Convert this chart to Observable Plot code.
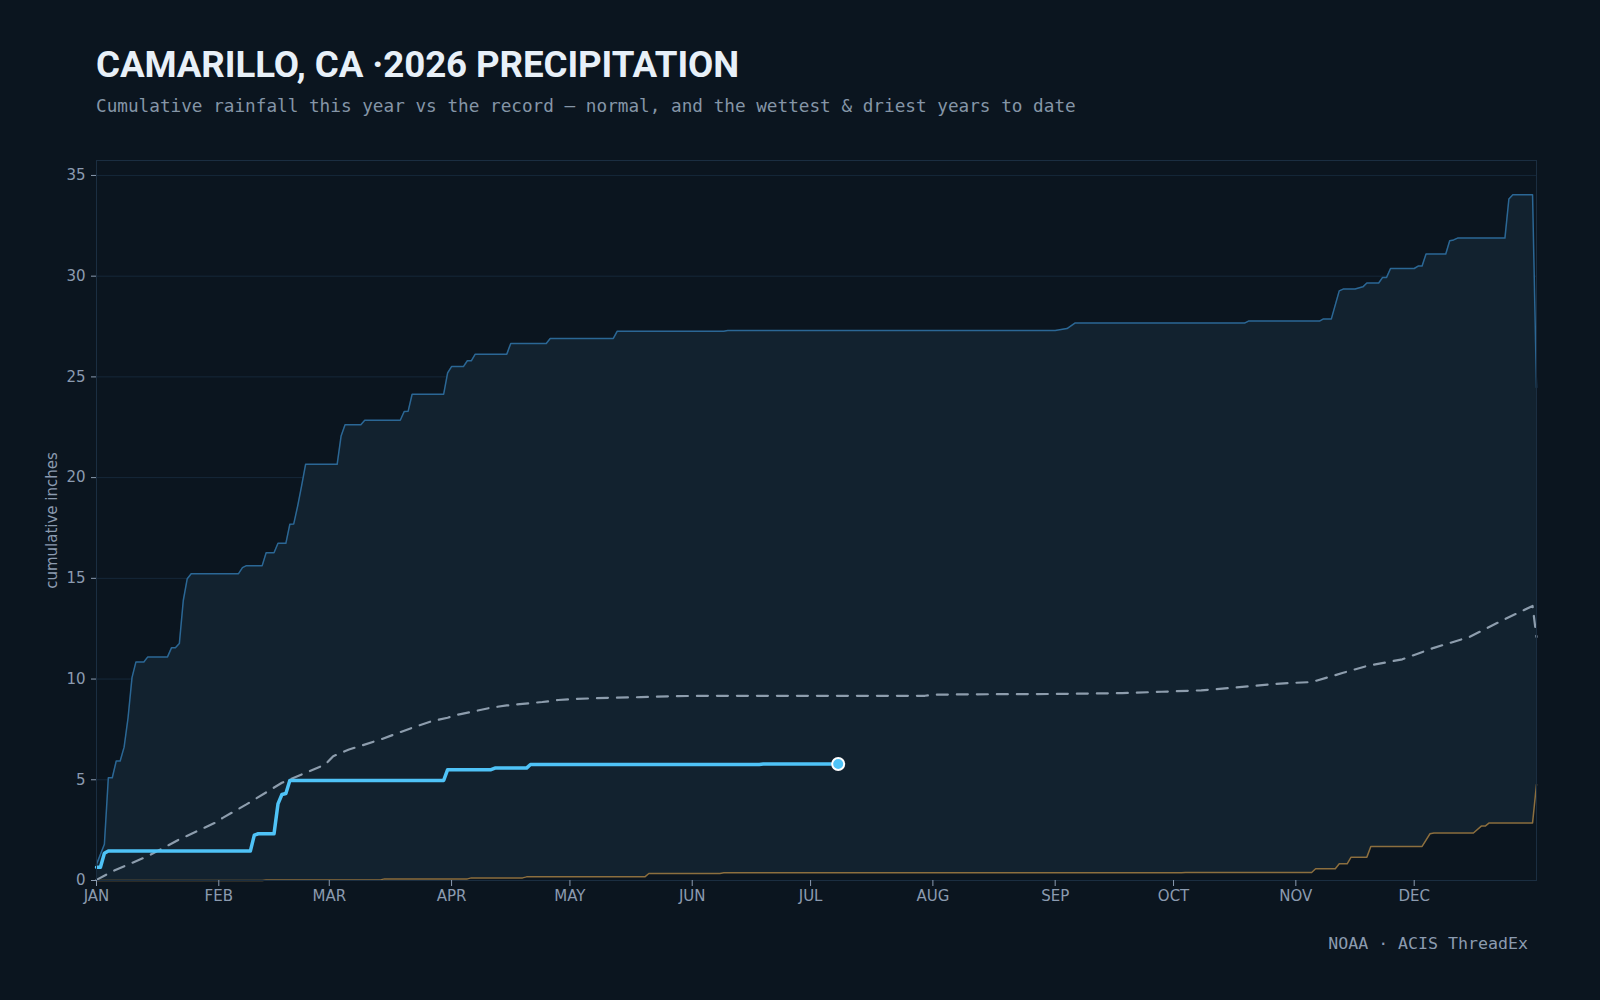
<!DOCTYPE html>
<html>
<head>
<meta charset="utf-8">
<script src="https://cdn.jsdelivr.net/npm/d3@7"></script>
<script src="https://cdn.jsdelivr.net/npm/@observablehq/plot@0.6"></script>
<style>
  html, body { margin: 0; padding: 0; background: #0b151f; }
  body { width: 1600px; height: 1000px; position: relative; overflow: hidden; }
  #title { position: absolute; left: 96px; top: 43px; margin: 0; line-height: 1;
           font: 700 36.7px Roboto, "DejaVu Sans", sans-serif; color: #e8f0f8; white-space: nowrap; letter-spacing: -0.1px; }
  #subtitle { position: absolute; left: 96px; top: 96px; margin: 0; line-height: 1;
              font: 400 17.7px "DejaVu Sans Mono", monospace; color: #8595a7; white-space: nowrap; }
  #chart { position: absolute; left: 0; top: 140px; }
  #caption { position: absolute; right: 72px; top: 934px; margin: 0; line-height: 1;
             font: 400 16.6px "DejaVu Sans Mono", monospace; color: #8b9bb0; white-space: nowrap; }
</style>
</head>
<body>
<h1 id="title">CAMARILLO, CA ·2026 PRECIPITATION</h1>
<p id="subtitle">Cumulative rainfall this year vs the record — normal, and the wettest &amp; driest years to date</p>
<div id="chart"></div>
<p id="caption">NOAA · ACIS ThreadEx</p>
<script>
// Cumulative inches by day of year (0 = Jan 1), [day, inches]
const wettest = [
  [0, 0.8], [2, 1.8], [3, 5.1], [4, 5.1], [5, 5.93], [6, 5.93], [7, 6.62], [8, 8.08],
  [9, 10.07], [10, 10.85], [12, 10.85], [13, 11.1], [18, 11.1], [19, 11.55], [20, 11.55],
  [21, 11.76], [22, 13.9], [23, 14.98], [24, 15.23], [36, 15.23], [37, 15.53], [38, 15.63],
  [42, 15.63], [43, 16.27], [45, 16.27], [46, 16.74], [48, 16.74], [49, 17.68], [50, 17.7],
  [51, 18.6], [52, 19.6], [53, 20.66], [61, 20.66], [62, 22.07], [63, 22.62], [67, 22.62],
  [68, 22.85], [77, 22.85], [78, 23.28], [79, 23.3], [80, 24.14], [88, 24.14], [89, 25.2],
  [90, 25.51], [93, 25.51], [94, 25.8], [95, 25.8], [96, 26.13], [104, 26.13], [105, 26.66],
  [114, 26.66], [115, 26.91], [131, 26.91], [132, 27.27], [159, 27.27], [160, 27.3],
  [243, 27.3], [246, 27.4], [248, 27.67], [291, 27.67], [292, 27.77], [310, 27.77],
  [311, 27.88], [313, 27.88], [315, 29.27], [316, 29.36], [319, 29.36], [321, 29.47],
  [322, 29.66], [325, 29.66], [326, 29.94], [327, 29.94], [328, 30.38], [334, 30.38],
  [335, 30.5], [336, 30.5], [337, 31.1], [342, 31.1], [343, 31.76], [344, 31.8],
  [345, 31.89], [357, 31.89], [358, 33.83], [359, 34.04], [364, 34.04], [365, 24.47]
];

const driest = [
  [0, 0], [42, 0], [43, 0.03], [72, 0.03], [73, 0.08], [94, 0.08], [95, 0.13], [108, 0.13],
  [109, 0.18], [139, 0.18], [140, 0.35], [158, 0.35], [159, 0.38], [275, 0.38], [276, 0.4],
  [308, 0.4], [309, 0.58], [314, 0.58], [315, 0.83], [317, 0.83], [318, 1.16], [322, 1.16],
  [323, 1.69], [336, 1.69], [338, 2.32], [339, 2.36], [349, 2.36], [351, 2.7], [352, 2.7],
  [353, 2.86], [364, 2.86], [365, 4.77]
];

const normal = [
  [0, 0.03], [4, 0.45], [13, 1.21], [21, 2.04], [30, 2.86], [32, 3.11], [38, 3.78],
  [47, 4.85], [55, 5.51], [58, 5.76], [60, 6.17], [64, 6.5], [72, 7.0], [80, 7.58],
  [85, 7.91], [89, 8.08], [92, 8.25], [96, 8.41], [100, 8.58], [104, 8.69], [108, 8.77],
  [113, 8.86], [117, 8.96], [121, 9.01], [130, 9.07], [138, 9.1], [146, 9.15], [155, 9.17],
  [210, 9.17], [212, 9.22], [220, 9.24], [243, 9.26], [260, 9.3], [270, 9.37], [280, 9.44],
  [288, 9.57], [301, 9.79], [308, 9.85], [316, 10.31], [322, 10.65], [331, 10.98],
  [339, 11.55], [348, 12.09], [356, 12.88], [364, 13.63], [365, 12.09]
];

const thisYear = [
  [0, 0.66], [1, 0.66], [2, 1.35], [3, 1.46], [39, 1.46], [40, 2.25], [41, 2.32], [45, 2.32],
  [46, 3.8], [47, 4.27], [48, 4.32], [49, 4.97], [88, 4.97], [89, 5.5], [100, 5.5],
  [101, 5.58], [109, 5.58], [110, 5.76], [168, 5.76], [169, 5.78], [188, 5.78]
];

const monthLabels = ["JAN", "FEB", "MAR", "APR", "MAY", "JUN", "JUL", "AUG", "SEP", "OCT", "NOV", "DEC"];
const yTicks = [0, 5, 10, 15, 20, 25, 30, 35];

const YEAR = 2026;
const toDate = (d) => new Date(Date.UTC(YEAR, 0, 1 + d));
const monthStarts = monthLabels.map((_, i) => new Date(Date.UTC(YEAR, i, 1)));
const X = (d) => toDate(d[0]);
const Y = (d) => d[1];

const BG = "#0b151f";
const yMax = d3.max(wettest, Y) * 1.05;

const chart = Plot.plot({
  width: 1600,
  height: 780,
  marginTop: 20,
  marginRight: 64,
  marginBottom: 40,
  marginLeft: 96,
  style: { background: "transparent", color: "#8b9bb0", fontFamily: "DejaVu Sans, sans-serif", fontSize: "15px" },
  x: { type: "utc", domain: [toDate(0), toDate(365)] },
  y: { domain: [0, yMax] },
  marks: [
    Plot.gridY(yTicks, { stroke: "#16283a", strokeOpacity: 1, strokeWidth: 1 }),
    // record band: wettest filled down to zero, then the driest area masked back to background
    Plot.areaY(wettest, { x: X, y: Y, fill: "#12222f" }),
    Plot.areaY(driest, { x: X, y: Y, fill: BG }),
    Plot.line(wettest, { x: X, y: Y, stroke: "#2b6795", strokeWidth: 1.5 }),
    Plot.line(driest, { x: X, y: Y, stroke: "#8c6f3f", strokeWidth: 1.5 }),
    Plot.line(normal, { x: X, y: Y, stroke: "#8d9dad", strokeWidth: 2.2, strokeDasharray: "11,9" }),
    Plot.line(thisYear, { x: X, y: Y, stroke: "#4fc3f7", strokeWidth: 3.5, strokeLinejoin: "round" }),
    Plot.dot([thisYear[thisYear.length - 1]], { x: X, y: Y, r: 6, fill: "#4fc3f7", stroke: "#ffffff", strokeWidth: 2 }),
    Plot.frame({ stroke: "#1b2e41" }),
    Plot.axisX(monthStarts, {
      tickSize: 6, tickPadding: 4, label: null,
      tickFormat: (d, i) => monthLabels[i], stroke: "#8b9bb0", fill: "#8b9bb0"
    }),
    Plot.axisY(yTicks, { tickSize: 5, tickPadding: 6, label: null, stroke: "#8b9bb0", fill: "#8b9bb0" }),
    Plot.text(["cumulative inches"], {
      frameAnchor: "left", dx: -44, rotate: -90, textAnchor: "middle",
      fill: "#8b9bb0", fontSize: 15
    })
  ]
});

document.getElementById("chart").appendChild(chart);
</script>
</body>
</html>
